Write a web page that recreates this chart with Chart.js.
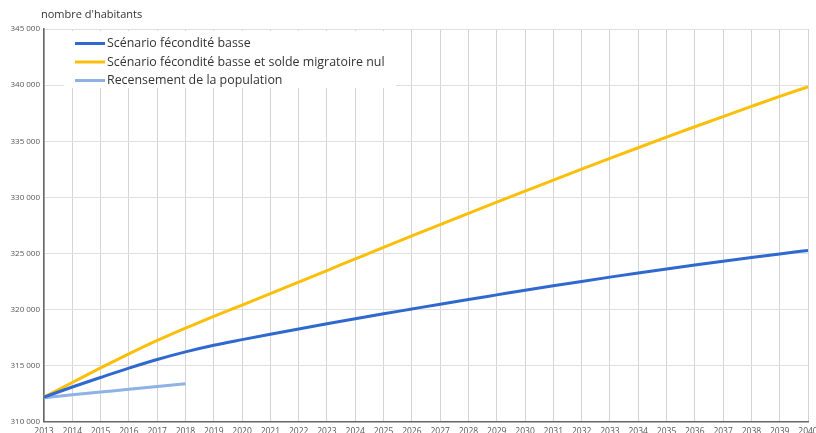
<!DOCTYPE html>
<html>
<head>
<meta charset="utf-8">
<script src="https://cdn.jsdelivr.net/npm/chart.js@4"></script>
<style>
  html, body { margin: 0; padding: 0; background: #fff; overflow: hidden; }
  #wrap { position: relative; width: 816px; height: 442px; }
</style>
</head>
<body>
<div id="wrap"><canvas id="myChart"></canvas></div>
<script>
const ctx = document.getElementById('myChart');

var annees = [];
for (var a = 2013; a <= 2040; a++) annees.push(String(a));

// lecture sur le graphique
var feconditeBasse = [312200, 313100, 313950, 314780, 315550, 316230, 316820, 317320,
  317800, 318270, 318730, 319180, 319620, 320050, 320480, 320900, 321310, 321720,
  322120, 322510, 322890, 323260, 323620, 323970, 324310, 324640, 324960, 325270];
var soldeNul = [312200, 313500, 314800, 316050, 317250, 318350, 319400, 320400,
  321420, 322450, 323480, 324510, 325540, 326560, 327570, 328570, 329570, 330560,
  331540, 332510, 333470, 334420, 335360, 336290, 337200, 338100, 338990, 339850];
var recensement = [312150, 312400, 312650, 312900, 313150, 313400];

var titreAxe = "nombre d'habitants";
var yMin = 310000, yMax = 345000, yPas = 5000;

// légende maison avec fond blanc + titre de l'axe
const decor = {
  id: 'decor',
  beforeDatasetsDraw(chart) {
    const c = chart.ctx;
    c.save();
    c.fillStyle = '#fff';
    c.fillRect(64, 31, 332, 57);
    c.font = '12.4px "Open Sans"';
    c.textBaseline = 'middle';
    chart.data.datasets.forEach(function (ds, i) {
      var y = 43.5 + i * 18.5;
      c.strokeStyle = ds.borderColor;
      c.lineWidth = 3;
      c.beginPath();
      c.moveTo(75, y);
      c.lineTo(105, y);
      c.stroke();
      c.fillStyle = '#333';
      c.fillText(ds.label, 107, y);
    });
    c.restore();
  },
  afterDraw(chart) {
    const c = chart.ctx;
    c.save();
    c.font = '11px "Open Sans"';
    c.fillStyle = '#333';
    c.textBaseline = 'middle';
    c.fillText(titreAxe, 41, 15);
    c.restore();
  }
};

new Chart(ctx, {
  type: 'line',
  data: {
    labels: annees,
    datasets: [
      {
        label: 'Scénario fécondité basse',
        data: feconditeBasse,
        borderColor: '#2f69cf',
        borderWidth: 3,
        pointRadius: 0,
        cubicInterpolationMode: 'monotone'
      },
      {
        label: 'Scénario fécondité basse et solde migratoire nul',
        data: soldeNul,
        borderColor: '#fbbf0a',
        borderWidth: 3,
        pointRadius: 0,
        cubicInterpolationMode: 'monotone'
      },
      {
        label: 'Recensement de la population',
        data: recensement,
        borderColor: '#8fb1e6',
        borderWidth: 3,
        pointRadius: 0,
        cubicInterpolationMode: 'monotone'
      }
    ]
  },
  options: {
    responsive: true,
    maintainAspectRatio: false,
    animation: false,
    layout: { padding: { top: 29, left: 0, right: 0, bottom: 0 } },
    plugins: {
      legend: { display: false },
      tooltip: { enabled: false }
    },
    scales: {
      x: {
        grid: { color: '#d4d4d4', drawTicks: false },
        border: { color: '#666', width: 1.5 },
        ticks: {
          color: '#555',
          font: { family: 'Open Sans', size: 8.5 },
          padding: 5,
          maxRotation: 0,
          autoSkip: false
        },
        afterFit: function (s) { s.paddingRight = 8; s.paddingLeft = 0; }
      },
      y: {
        min: yMin,
        max: yMax,
        grid: { color: '#dedede', drawTicks: false },
        border: { color: '#666', width: 1.5 },
        ticks: {
          stepSize: yPas,
          color: '#555',
          font: { family: 'Open Sans', size: 8 },
          padding: 4,
          callback: function (v) { return String(v).replace(/\B(?=(\d{3})+(?!\d))/g, ' '); }
        },
        afterFit: function (s) { s.width = 44; }
      }
    }
  },
  plugins: [decor]
});
</script>
</body>
</html>
